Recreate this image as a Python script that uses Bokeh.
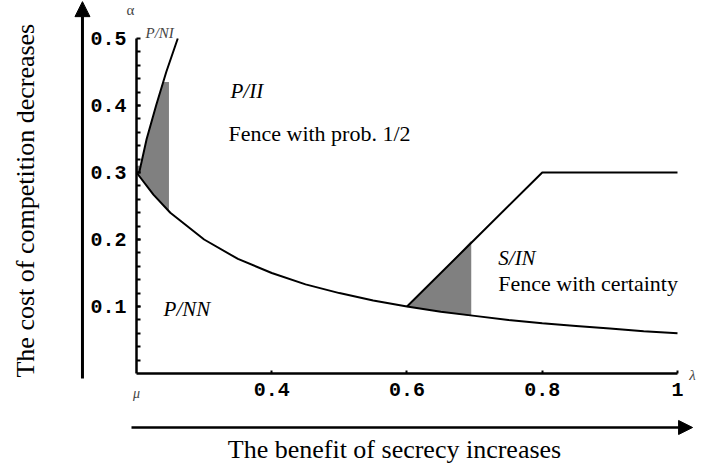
from math import pi
from bokeh.plotting import figure
from bokeh.models import Range1d, FixedTicker, Label, Arrow, NormalHead
from bokeh.embed import file_html
from bokeh.resources import INLINE

# ---- data ----
lam_curve = [0.20, 0.225, 0.25, 0.30, 0.35, 0.40, 0.45, 0.50, 0.55, 0.60,
             0.65, 0.70, 0.75, 0.80, 0.85, 0.90, 0.95, 1.00]
alpha_curve = [0.300, 0.267, 0.240, 0.200, 0.171, 0.150, 0.133, 0.120, 0.109, 0.100,
               0.092, 0.086, 0.080, 0.075, 0.071, 0.067, 0.063, 0.060]

lam_left_line = [0.204, 0.215, 0.229, 0.244, 0.261]
alpha_left_line = [0.30, 0.35, 0.40, 0.45, 0.50]

lam_right_line = [0.60, 0.70, 0.80, 1.00]
alpha_right_line = [0.10, 0.20, 0.30, 0.30]

lam_shade_left = [0.200, 0.207, 0.215, 0.229, 0.240, 0.248, 0.248, 0.225, 0.200]
alpha_shade_left = [0.310, 0.310, 0.350, 0.400, 0.435, 0.435, 0.242, 0.267, 0.300]

lam_shade_right = [0.600, 0.650, 0.695, 0.695, 0.650, 0.600]
alpha_shade_right = [0.100, 0.150, 0.198, 0.086, 0.092, 0.100]

y_ticks = [0.1, 0.2, 0.3, 0.4, 0.5]
y_tick_labels = ["0.1", "0.2", "0.3", "0.4", "0.5"]
x_ticks = [0.4, 0.6, 0.8, 1.0]
x_tick_labels = ["0.4", "0.6", "0.8", "1"]
y_minor = [round(0.02 * i, 2) for i in range(1, 25)]

region_labels = ["P/II", "S/IN", "P/NN"]
region_lam = [0.339, 0.735, 0.240]
region_alpha = [0.422, 0.173, 0.097]

note_labels = ["Fence with prob. 1/2", "Fence with certainty"]
note_lam = [0.336, 0.735]
note_alpha = [0.358, 0.134]

# ---- figure: the frame fills the canvas; axes are pinned inside it ----
p = figure(width=702, height=466, x_range=Range1d(-0.00111, 1.03697),
           y_range=Range1d(-0.13881, 0.55672),
           output_backend="svg", toolbar_location=None)
p.min_border = 0
p.outline_line_color = None
p.xgrid.visible = False
p.ygrid.visible = False
p.background_fill_color = "white"
p.border_fill_color = "white"

tick_font = "Liberation Mono"

ya = p.yaxis[0]
ya.fixed_location = 0.2
ya.bounds = (0.0, 0.5)
ya.ticker = FixedTicker(ticks=y_ticks, minor_ticks=y_minor)
ya.major_label_overrides = {t: s for t, s in zip(y_ticks, y_tick_labels)}
ya.axis_line_width = 2.5
ya.major_tick_in = 4
ya.major_tick_out = 0
ya.minor_tick_in = 4
ya.minor_tick_out = 0
ya.major_tick_line_width = 2
ya.minor_tick_line_width = 2
ya.major_label_standoff = 10
ya.major_label_text_font = tick_font
ya.major_label_text_font_style = "bold"
ya.major_label_text_font_size = "20px"
ya.major_label_text_color = "black"

xa = p.xaxis[0]
xa.fixed_location = 0.0
xa.bounds = (0.2, 1.0)
xa.ticker = FixedTicker(ticks=x_ticks)
xa.major_label_overrides = {t: s for t, s in zip(x_ticks, x_tick_labels)}
xa.axis_line_width = 2.5
xa.major_tick_in = 3
xa.major_tick_out = 0
xa.minor_tick_in = 0
xa.minor_tick_out = 0
xa.major_tick_line_width = 2
xa.major_label_standoff = 10
xa.major_label_text_font = tick_font
xa.major_label_text_font_style = "bold"
xa.major_label_text_font_size = "20px"
xa.major_label_text_color = "black"

# shaded regions
p.patch(lam_shade_left, alpha_shade_left, fill_color="#808080", line_color=None)
p.patch(lam_shade_right, alpha_shade_right, fill_color="#808080", line_color=None)

# boundary curves
p.line(lam_curve, alpha_curve, line_color="black", line_width=2)
p.line(lam_left_line, alpha_left_line, line_color="black", line_width=2)
p.line(lam_right_line, alpha_right_line, line_color="black", line_width=2)

serif = "Liberation Serif"
for t, x, y in zip(region_labels, region_lam, region_alpha):
    p.add_layout(Label(x=x, y=y, text=t, text_font=serif, text_font_style="italic",
                       text_font_size="21px", text_baseline="middle", text_align="left",
                       text_color="black"))
for t, x, y in zip(note_labels, note_lam, note_alpha):
    p.add_layout(Label(x=x, y=y, text=t, text_font=serif,
                       text_font_size="22px", text_baseline="middle", text_align="left",
                       text_color="black"))

p.add_layout(Label(x=0.2133, y=0.5075, text="P/NI", text_font=serif, text_font_style="italic",
                   text_font_size="15px", text_baseline="middle", text_align="left"))
p.add_layout(Label(x=0.1911, y=0.542, text="α", text_font=serif,
                   text_font_size="15px", text_baseline="middle", text_align="center"))
p.add_layout(Label(x=1.0222, y=-0.0015, text="λ", text_font=serif, text_font_style="italic",
                   text_font_size="15px", text_baseline="middle", text_align="center"))
p.add_layout(Label(x=0.2, y=-0.030, text="μ", text_font=serif, text_font_style="italic",
                   text_font_size="14px", text_baseline="middle", text_align="center"))

# outer arrows and axis titles
p.add_layout(Arrow(end=NormalHead(size=15, fill_color="black", line_color="black"),
                   x_start=0.1201, y_start=-0.0075, x_end=0.1201, y_end=0.555,
                   line_width=3, line_color="black"))
p.add_layout(Arrow(end=NormalHead(size=14, fill_color="black", line_color="black"),
                   x_start=0.1926, y_start=-0.0806, x_end=1.0223, y_end=-0.0806,
                   line_width=2.5, line_color="black"))
p.add_layout(Label(x=0.0358, y=0.258, text="The cost of competition decreases", angle=pi / 2,
                   text_font=serif, text_font_size="26px", text_baseline="middle",
                   text_align="center", text_color="black"))
p.add_layout(Label(x=0.5815, y=-0.1134, text="The benefit of secrecy increases",
                   text_font=serif, text_font_size="26px", text_baseline="middle",
                   text_align="center", text_color="black"))

open("out.html", "w").write(file_html(p, INLINE))
